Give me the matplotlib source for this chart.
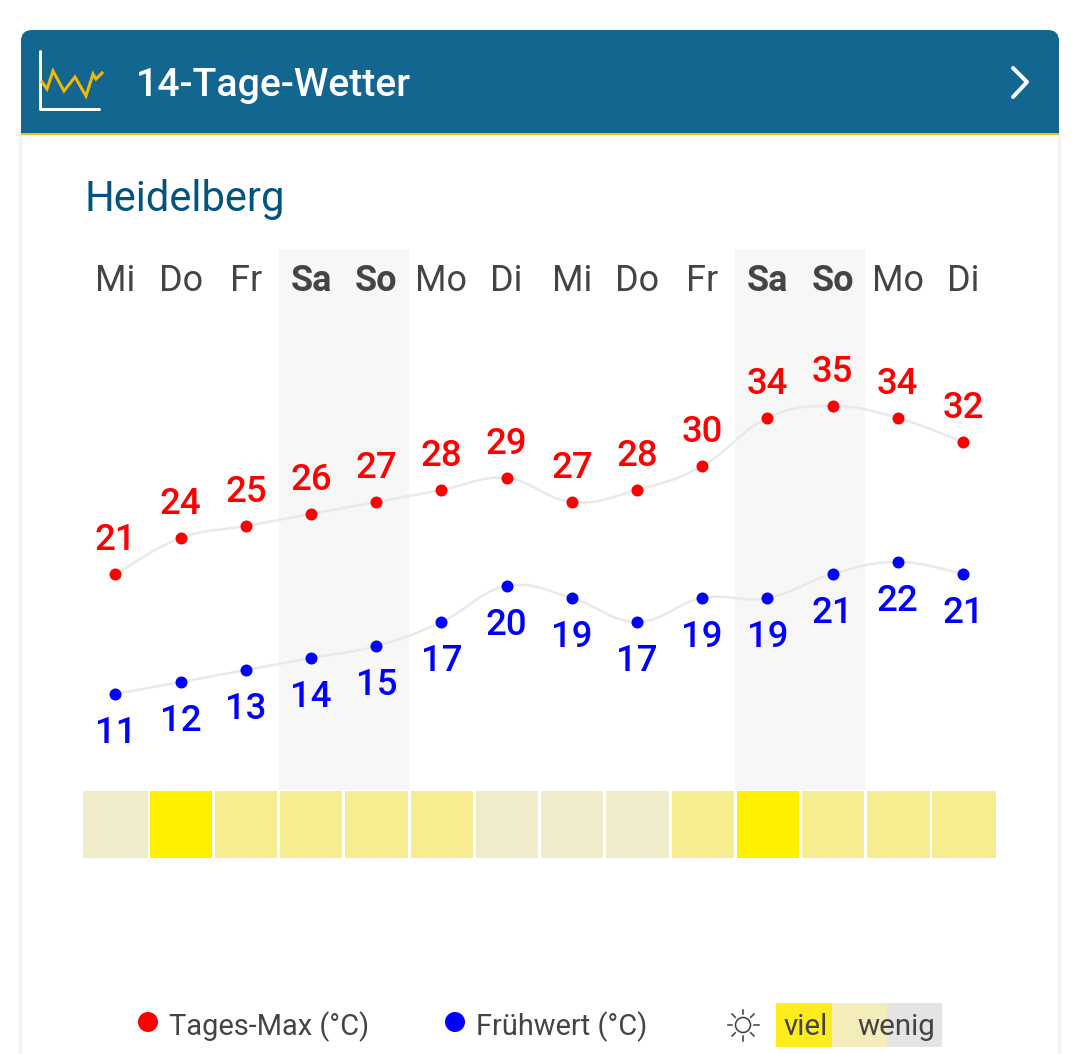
import numpy as np
import matplotlib
matplotlib.use("Agg")
import matplotlib.pyplot as plt
from matplotlib.patches import FancyBboxPatch, Rectangle, Ellipse, Circle, PathPatch
from matplotlib.path import Path

plt.rcParams['font.family'] = ['Roboto', 'DejaVu Sans']

days = ['Mi', 'Do', 'Fr', 'Sa', 'So', 'Mo', 'Di', 'Mi', 'Do', 'Fr', 'Sa', 'So', 'Mo', 'Di']
tages_max = [21, 24, 25, 26, 27, 28, 29, 27, 28, 30, 34, 35, 34, 32]
fruehwert = [11, 12, 13, 14, 15, 17, 20, 19, 17, 19, 19, 21, 22, 21]
sun_level = [0, 2, 1, 1, 1, 1, 0, 0, 0, 1, 2, 1, 1, 1]
sun_colors = ['#f0ebc8', '#f6ec90', '#fff000']
weekends = [(2.5, 4.5), (9.5, 11.5)]

W, H = 1080, 1054
DPI = 100
GREY = '#444444'
px = 72 / DPI  # one pixel in points


def smooth_path(xs, ys, k=0.2):
    # bezier segments through the points, like the spline of the original chart
    xs = np.asarray(xs, float)
    ys = np.asarray(ys, float)
    verts = [(xs[0], ys[0])]
    codes = [Path.MOVETO]
    for i in range(len(xs) - 1):
        i0, i2 = max(i - 1, 0), min(i + 2, len(xs) - 1)
        verts.append((xs[i] + k * (xs[i + 1] - xs[i0]), ys[i] + k * (ys[i + 1] - ys[i0])))
        verts.append((xs[i + 1] - k * (xs[i2] - xs[i]), ys[i + 1] - k * (ys[i2] - ys[i])))
        verts.append((xs[i + 1], ys[i + 1]))
        codes += [Path.CURVE4] * 3
    return Path(verts, codes)


def axes_px(left, top, right, bottom):
    return fig.add_axes([left / W, 1 - bottom / H, (right - left) / W, (bottom - top) / H])


fig = plt.figure(figsize=(W / DPI, H / DPI), dpi=DPI, facecolor='white')

# card, header and legend live in an axes measured in pixels
page = fig.add_axes([0, 0, 1, 1])
page.set_xlim(0, W)
page.set_ylim(H, 0)
page.axis('off')

for off, col in [(4, '#f8f8f8'), (3, '#f5f5f5'), (2, '#f1f1f1'), (1, '#eeeeee')]:
    page.add_patch(Rectangle((22 - off, 130), 1036 + 2 * off, 930, fc=col, ec='none'))
page.add_patch(Rectangle((22, 130), 1036, 930, fc='white', ec='none'))
page.add_patch(FancyBboxPatch((21, 30), 1038, 50, boxstyle='round,pad=0,rounding_size=11',
                              fc='#126690', ec='none'))
page.add_patch(Rectangle((21, 60), 1038, 73, fc='#126690', ec='none'))
page.add_patch(Rectangle((21, 132.6), 1038, 2.6, fc='#f5c000', ec='none'))

page.plot([40, 40, 99], [51, 109, 109], color='white', lw=3 * px, solid_joinstyle='round', solid_capstyle='round')
page.plot([42, 47, 53, 64, 75, 86, 93, 96, 102], [82, 89, 71, 91, 77, 96, 74, 79, 73],
          color='#f5b800', lw=3 * px, solid_joinstyle='miter')
page.plot([1013, 1027, 1013], [68, 82, 97], color='white', lw=4 * px, solid_capstyle='round', solid_joinstyle='round')
page.text(136, 96, '14-Tage-Wetter', color='white', fontsize=39.2 * px, fontweight='medium', va='baseline')
page.text(84, 211, 'Heidelberg', color='#00557f', fontsize=41.8 * px, va='baseline')

# temperatures
ax = axes_px(82.9, 248.5, 995.6, 790)
ax.patch.set_alpha(0)
ax.set_xlim(-0.5, 13.5)
ax.set_ylim(3, 21 + (574 - 248.5) / 12)
ax.axis('off')
x = np.arange(len(days))
for a, b in weekends:
    ax.axvspan(a + 0.01, b, color='#f7f7f7', lw=0, zorder=0)
for vals in (tages_max, fruehwert):
    ax.add_patch(PathPatch(smooth_path(x, vals), fc='none', ec='#e9e9e9', lw=2.5 * px, zorder=1))
ax.plot(x, tages_max, 'o', color='#ff0000', ms=12 * px, mew=0, zorder=2)
ax.plot(x, fruehwert, 'o', color='#0000ff', ms=12 * px, mew=0, zorder=2)
for i in x:
    ax.annotate(str(tages_max[i]), (i, tages_max[i]), xytext=(0, 24 * px), textcoords='offset points',
                ha='center', va='baseline', color='#ff0000', fontsize=36.5 * px, fontweight='medium')
    ax.annotate(str(fruehwert[i]), (i, fruehwert[i]), xytext=(0, -49 * px), textcoords='offset points',
                ha='center', va='baseline', color='#0000ff', fontsize=36.5 * px, fontweight='medium')
    ax.text(i, 21 + (574 - 291) / 12, days[i], ha='center', va='baseline', color=GREY, fontsize=36 * px,
            fontweight='bold' if days[i] in ('Sa', 'So') else 'normal')

# sunshine strip
sun = axes_px(82.9, 790.5, 996.4, 858)
sun.set_xlim(-0.5, 13.5)
sun.set_ylim(0, 1)
sun.axis('off')
widths = [0.955] * len(x)
widths[0] = widths[-1] = 0.985
sun.bar(x, [1] * len(x), width=widths, color=[sun_colors[s] for s in sun_level], lw=0)

# legend
page.add_patch(Ellipse((148, 1022), 20, 20, fc='#ff0000', ec='none'))
page.text(169, 1035, 'Tages-Max (°C)', color=GREY, fontsize=29 * px, va='baseline')
page.add_patch(Ellipse((455, 1022), 20, 20, fc='#0000ff', ec='none'))
page.text(476, 1035, 'Frühwert (°C)', color=GREY, fontsize=29 * px, va='baseline')

page.add_patch(Circle((743, 1025), 7.5, fc='none', ec=GREY, lw=1.6 * px))
for ang in np.arange(0, 360, 45):
    c, s = np.cos(np.radians(ang)), np.sin(np.radians(ang))
    page.plot([743 + 11 * c, 743 + 15.5 * c], [1025 + 11 * s, 1025 + 15.5 * s], color=GREY, lw=1.6 * px)

page.add_patch(Rectangle((776, 1003), 56, 44, fc='#ffec1c', ec='none'))
page.add_patch(Rectangle((832, 1003), 55, 44, fc='#f5edb9', ec='none'))
page.add_patch(Rectangle((887, 1003), 55, 44, fc='#e4e4e4', ec='none'))
page.text(784, 1035, 'viel', color=GREY, fontsize=29.5 * px, va='baseline')
page.text(857, 1035, 'wenig', color=GREY, fontsize=29.5 * px, va='baseline')

fig.savefig('out.png', dpi=DPI)
